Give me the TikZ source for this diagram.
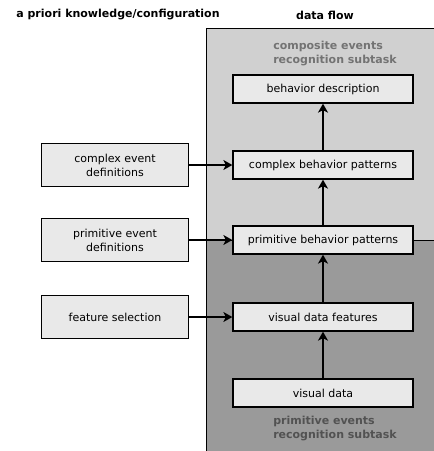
\documentclass[tikz,border=0pt]{standalone}
\usepackage{fontspec}
\setmainfont{DejaVu Sans}
\usetikzlibrary{arrows.meta}

\definecolor{upperbg}{HTML}{D0D0D0}
\definecolor{lowerbg}{HTML}{9A9A9A}
\definecolor{boxfill}{HTML}{E9E9E9}

\begin{document}
\begin{tikzpicture}[x=1pt,y=-1pt]
	\path [use as bounding box] (0,0) rectangle (434,451);
	\tikzstyle{flowbox} = [draw, fill=boxfill, line width=1.3pt, minimum width=180pt, minimum height=28pt, inner sep=0pt, font=\fontsize{11}{13}\selectfont]
	\tikzstyle{confbox} = [draw, fill=boxfill, line width=1.3pt, minimum width=147pt, minimum height=43pt, inner sep=0pt, align=center, font=\fontsize{11}{14}\selectfont]
	\tikzstyle{flow} = [line width=1.3pt, -{Stealth[length=9pt,width=10pt,inset=2.5pt]}]
	\tikzstyle{header} = [font=\bfseries\fontsize{11}{13}\selectfont]
	\tikzstyle{subtask} = [font=\bfseries\fontsize{11}{14}\selectfont, align=left]
	% the two subtask regions
	\fill[upperbg] (206,28) rectangle (434,240);
	\fill[lowerbg] (206,240) rectangle (434,451);
	\draw[line width=1pt] (206,451) -- (206,28) -- (434,28);
	\draw[line width=1pt] (206,240) -- (434,240);
	\node[header] (hconf) at (118,15) {a priori knowledge/configuration};
	\node[header] (hflow) at (325,15) {data flow};
	\node[subtask, text=black!55] (upper) at (335,54) {composite events\\recognition subtask};
	\node[subtask, text=black!68] (lower) at (335,429) {primitive events\\recognition subtask};
	% data flow
	\node[flowbox] (desc) at (323,89) {behavior description};
	\node[flowbox] (cbp) at (323,165) {complex behavior patterns};
	\node[flowbox] (pbp) at (323,240) {primitive behavior patterns};
	\node[flowbox] (vdf) at (323,317) {visual data features};
	\node[flowbox] (vd) at (323,393) {visual data};
	% configuration
	\node[confbox] (ced) at (115,165) {complex event\\definitions};
	\node[confbox] (ped) at (115,240) {primitive event\\definitions};
	\node[confbox] (fs) at (115,317) {feature selection};
	\draw[flow] (vd) -- (vdf);
	\draw[flow] (vdf) -- (pbp);
	\draw[flow] (pbp) -- (cbp);
	\draw[flow] (cbp) -- (desc);
	\draw[flow] (ced) -- (cbp);
	\draw[flow] (ped) -- (pbp);
	\draw[flow] (fs) -- (vdf);
\end{tikzpicture}
\end{document}
